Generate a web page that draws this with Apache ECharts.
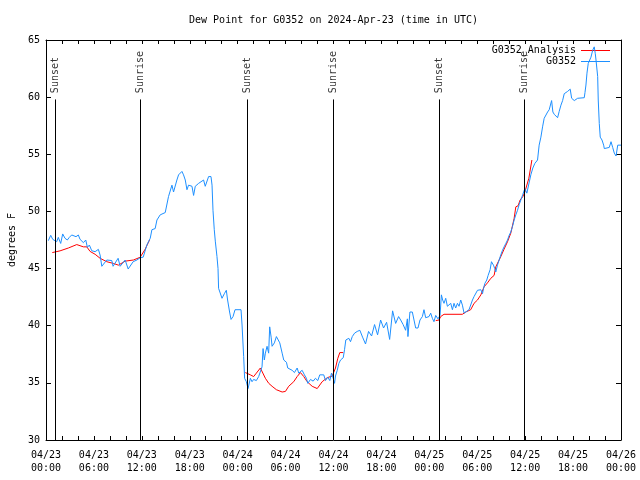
<!DOCTYPE html>
<html><head><meta charset="utf-8">
<script src="https://cdn.jsdelivr.net/npm/echarts@6/dist/echarts.min.js"></script>
<style>html,body{margin:0;padding:0;background:#fff}#c{width:640px;height:480px}</style>
</head><body><div id="c"></div>
<script>
// hours since 2024-04-23 00:00 UTC
const obsHours = [0.29,0.59,0.84,1.09,1.34,1.54,1.84,2.09,2.38,2.67,2.92,3.22,3.42,3.76,4.05,4.26,4.48,4.68,4.98,5.18,5.43,5.73,6.15,6.56,6.77,6.99,7.61,8.24,8.40,9.03,9.28,9.91,10.29,10.91,11.38,11.79,12.17,12.63,13.05,13.26,13.67,13.89,14.30,14.93,15.34,15.77,15.97,16.39,16.60,17.02,17.22,17.44,17.65,17.85,18.28,18.48,18.69,19.10,19.73,19.94,20.36,20.66,20.79,20.91,21.07,21.20,21.41,21.54,21.61,21.83,22.04,22.33,22.58,22.74,22.99,23.17,23.42,23.67,24.42,24.55,24.75,24.87,25.09,25.30,25.59,25.80,26.00,26.34,26.63,26.84,27.05,27.18,27.34,27.47,27.68,27.88,28.01,28.19,28.31,28.60,28.85,29.01,29.27,29.57,29.77,30.11,30.27,30.52,30.82,31.11,31.45,31.65,32.07,32.36,32.61,32.78,33.12,33.45,33.74,34.03,34.28,34.78,35.00,35.29,35.54,35.75,35.96,36.13,36.25,36.47,36.67,36.88,37.22,37.38,37.54,37.72,37.92,38.13,38.35,38.64,38.97,39.30,39.64,40.01,40.39,40.77,41.14,41.52,41.90,42.27,42.65,43.03,43.40,43.78,44.15,44.41,44.72,45.03,45.25,45.32,45.57,45.87,46.08,46.29,46.58,46.83,47.13,47.33,47.54,47.96,48.17,48.38,48.58,48.80,49.08,49.34,49.51,49.67,49.84,50.05,50.26,50.46,50.68,50.89,51.09,51.30,51.52,51.72,51.93,52.14,52.35,52.97,53.18,53.40,53.60,53.81,54.03,54.45,54.66,54.78,54.95,55.19,55.36,55.61,55.78,56.03,56.19,56.32,56.53,56.74,56.95,57.16,57.36,57.58,57.79,57.99,58.20,58.42,58.62,58.83,59.04,59.25,59.46,59.71,59.96,60.21,60.46,60.71,60.96,61.21,61.55,61.75,61.97,62.18,62.38,62.59,62.81,63.01,63.31,63.47,63.64,63.85,64.06,64.26,64.48,64.69,64.89,65.31,65.64,65.82,66.15,66.57,67.40,67.49,67.61,67.74,67.90,68.03,68.24,68.45,68.65,68.78,68.87,69.08,69.15,69.28,69.40,69.62,69.83,69.91,70.12,70.53,70.75,70.96,71.16,71.38,71.59,72.00];
const obsValues = [47.44,47.91,47.56,47.73,47.35,47.73,47.2,48.03,47.65,47.5,47.73,47.94,48.03,47.79,47.94,47.56,47.73,47.27,47.5,46.86,47.06,46.56,46.48,46.68,46.19,45.2,45.75,45.7,45.2,45.9,45.2,45.75,44.96,45.6,45.75,45.95,46.0,47.06,47.65,48.4,48.5,49.25,49.7,49.9,51.3,52.3,51.7,52.75,53.2,53.5,53.2,52.75,51.9,52.3,52.2,51.4,52.2,52.45,52.75,52.2,53.05,53.05,52.3,50.1,48.4,47.4,46.05,45.0,43.27,43.2,42.4,42.8,43.1,42.25,41.2,40.55,40.8,41.4,41.4,40.06,37.3,35.4,35.1,34.5,35.4,35.1,35.3,35.2,35.55,35.7,36.4,38.0,37.0,37.6,38.2,37.6,39.9,39.0,38.2,38.5,39.05,39.2,38.5,37.6,37.0,36.8,36.3,36.4,36.1,35.9,36.3,35.85,36.1,35.7,35.4,34.96,35.3,35.15,35.4,35.2,35.7,35.7,35.2,35.5,35.2,35.85,35.4,34.96,35.6,36.1,36.7,37.0,37.2,37.9,38.75,38.6,38.9,38.6,39.05,39.35,39.5,39.6,39.0,38.4,39.5,39.1,40.1,39.2,40.5,39.8,40.3,38.8,41.3,40.2,40.8,40.5,40.1,39.6,40.6,39.05,41.2,41.2,40.5,39.8,39.8,40.5,40.8,41.4,40.7,40.8,41.1,40.65,40.35,40.9,40.6,40.9,42.7,42.25,41.96,42.4,41.7,41.55,41.96,41.4,41.96,41.55,41.96,41.7,42.25,41.8,41.1,41.4,41.55,42.25,42.55,42.4,43.1,43.15,42.8,43.25,43.7,44.0,44.4,44.9,45.6,45.3,45.0,44.7,45.3,45.75,46.2,46.6,46.9,47.2,47.5,47.9,48.2,48.7,49.25,49.7,50.1,50.6,51.0,51.5,52.0,51.6,52.4,53.2,53.8,54.2,54.5,55.8,56.5,57.4,58.15,58.3,58.7,58.9,59.7,58.7,58.5,58.6,58.2,58.75,59.3,59.7,60.3,60.5,60.7,59.9,59.7,59.9,59.95,60.4,61.06,62.1,62.96,62.9,63.5,64.1,64.4,63.8,63.25,61.8,59.75,57.7,56.5,56.25,55.8,55.5,55.6,55.6,56.1,55.6,55.1,54.85,55.8,55.8];

// analysis: null marks a gap
const anaHours = [0.79,1.76,2.80,3.85,4.68,5.11,5.52,6.15,6.77,7.61,8.44,9.07,9.91,10.95,11.79,12.42,12.96,18.0,24.96,25.59,26.00,26.34,26.84,27.09,27.47,27.89,28.31,28.85,29.57,29.98,30.39,31.02,31.45,31.86,32.28,32.70,33.33,33.96,34.58,35.21,35.84,36.25,36.54,36.79,37.22,43.0,48.80,49.21,49.42,49.84,52.14,52.56,53.18,53.60,54.03,54.45,54.85,55.28,55.70,56.11,56.32,56.57,56.95,57.36,57.79,58.20,58.62,58.83,59.12,59.37,59.71,59.96,60.46,60.84];
const anaValues = [46.4,46.55,46.8,47.1,46.9,46.9,46.5,46.25,45.9,45.6,45.45,45.3,45.65,45.75,45.99,46.7,47.5,null,35.9,35.7,35.55,35.85,36.3,36.3,35.4,34.96,34.7,34.4,34.2,34.25,34.7,35.1,35.55,35.9,35.55,35.1,34.7,34.5,35.1,35.45,35.6,36.3,37.15,37.65,37.65,null,40.45,40.5,40.8,41.0,41.0,41.2,41.4,41.96,42.25,42.7,43.4,43.75,44.15,44.4,45.15,45.3,46.05,46.7,47.35,48.1,49.4,50.4,50.5,51.0,51.3,51.7,52.9,54.5];

const eventHours = [1.2, 11.85, 25.17, 35.98, 49.2, 59.87];
const eventNames = ['Sunset','Sunrise','Sunset','Sunrise','Sunset','Sunrise'];

const titleText = 'Dew Point for G0352 on 2024-Apr-23 (time in UTC)';
const obsName = 'G0352';
const anaName = 'G0352_Analysis';
const yName = 'degrees F';
const xMin = 0, xMax = 72, xTickStep = 2, xLabelStep = 6;
const yMin = 30, yMax = 65, yStep = 5;
const startDay = 23, monthStr = '04';

const FONT = 'DejaVu Sans Mono';
const pad = n => (n < 10 ? '0' : '') + n;
function xLabel(v) {
  if (Math.round(v) % xLabelStep !== 0) return '';
  const d = startDay + Math.floor(v / 24);
  const h = Math.round(v) % 24;
  return monthStr + '/' + pad(d) + '\n' + pad(h) + ':00';
}

const obsData = obsHours.map((h, i) => [h, obsValues[i]]);
const anaData = anaHours.map((h, i) => [h, anaValues[i]]);
const lineTop = 59.8, labelBase = 60.35;

const chart = echarts.init(document.getElementById('c'), null, {renderer: 'canvas'});
const axisLine = {show: true, onZero: false, lineStyle: {color: '#000', width: 1}};
chart.setOption({
  animation: false,
  backgroundColor: '#fff',
  textStyle: {fontFamily: FONT},
  title: {
    text: titleText, left: 333.5, top: 15, padding: 0, textAlign: 'center',
    textStyle: {fontFamily: FONT, fontSize: 10, fontWeight: 'normal', color: '#000'}
  },
  legend: {
    data: [{name: anaName, icon: 'rect'}, {name: obsName, icon: 'rect'}],
    orient: 'vertical', align: 'right',
    right: 30, top: 45, padding: 0, itemGap: 0, itemWidth: 29, itemHeight: 1,
    textStyle: {fontFamily: FONT, fontSize: 10, color: '#000', lineHeight: 11}
  },
  grid: {left: 46, right: 19, top: 40, bottom: 40, outerBoundsMode: 'none', containLabel: false},
  xAxis: [{
    type: 'value', min: xMin, max: xMax, interval: xTickStep,
    axisLine: axisLine, splitLine: {show: false},
    axisTick: {show: true, inside: true, length: 4, lineStyle: {color: '#000'}},
    axisLabel: {formatter: xLabel, fontFamily: FONT, fontSize: 10, color: '#000', margin: 9, lineHeight: 13, showMinLabel: true, showMaxLabel: true}
  }, {
    type: 'value', position: 'top', min: xMin, max: xMax, interval: xTickStep,
    axisLine: axisLine, splitLine: {show: false},
    axisTick: {show: true, inside: true, length: 4, lineStyle: {color: '#000'}},
    axisLabel: {show: false}
  }],
  yAxis: [{
    type: 'value', min: yMin, max: yMax, interval: yStep,
    name: yName, nameLocation: 'middle', nameGap: 29,
    nameTextStyle: {fontFamily: FONT, fontSize: 10, color: '#000'},
    axisLine: axisLine, splitLine: {show: false},
    axisTick: {show: true, inside: true, length: 5, lineStyle: {color: '#000'}},
    axisLabel: {fontFamily: FONT, fontSize: 10, color: '#000', margin: 6}
  }, {
    type: 'value', position: 'right', min: yMin, max: yMax, interval: yStep,
    axisLine: axisLine, splitLine: {show: false},
    axisTick: {show: true, inside: true, length: 5, lineStyle: {color: '#000'}},
    axisLabel: {show: false}
  }],
  series: [{
    name: anaName, type: 'line', data: anaData, showSymbol: false, symbol: 'none',
    connectNulls: false, lineStyle: {color: '#ff0000', width: 1}, itemStyle: {color: '#ff0000'}, z: 3
  }, {
    name: obsName, type: 'line', data: obsData, showSymbol: false, symbol: 'none',
    lineStyle: {color: '#1e90ff', width: 1}, itemStyle: {color: '#1e90ff'}, z: 4,
    markLine: {
      silent: true, symbol: ['none', 'none'], animation: false,
      label: {show: false},
      lineStyle: {color: '#000', width: 1, type: 'solid'},
      emphasis: {disabled: true},
      data: eventHours.map(h => [{coord: [h, yMin]}, {coord: [h, lineTop]}])
    }
  }, {
    name: 'events', type: 'scatter', silent: true,
    data: eventHours.map((h, i) => ({value: [h, labelBase], name: eventNames[i]})),
    symbolSize: 1, itemStyle: {color: 'rgba(0,0,0,0)'},
    label: {show: true, position: 'inside', rotate: 90, align: 'left', verticalAlign: 'middle',
      formatter: p => p.name, fontFamily: FONT, fontSize: 10, color: '#000'},
    z: 5
  }]
});
</script></body></html>
